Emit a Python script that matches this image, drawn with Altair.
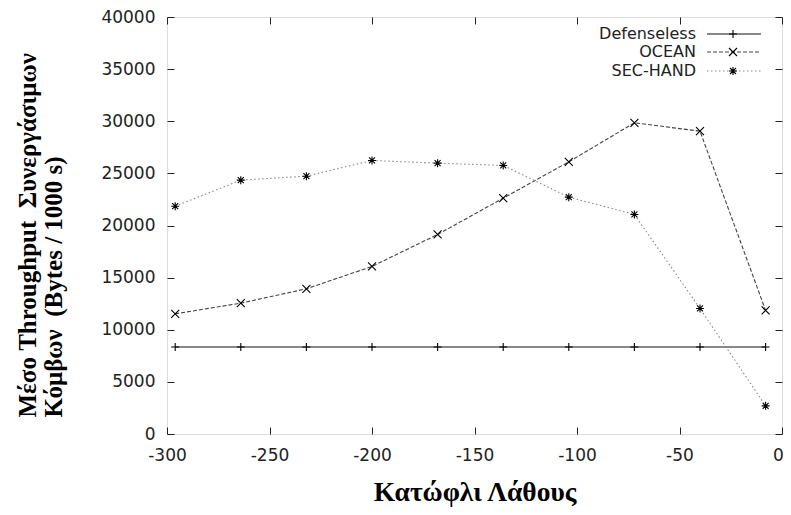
import altair as alt
import pandas as pd

# ---- data ----
x_vals = [-296, -264, -232, -200, -168, -136, -104, -72, -40, -8]
defenseless = [8350, 8350, 8350, 8350, 8350, 8350, 8350, 8350, 8350, 8350]
ocean = [11530, 12550, 13930, 16070, 19140, 22620, 26110, 29850, 29050, 11850]
sec_hand = [21850, 24350, 24730, 26240, 25980, 25760, 22720, 21060, 12040, 2700]

series = ["Defenseless", "OCEAN", "SEC-HAND"]
x_ticks = [-300, -250, -200, -150, -100, -50, 0]
y_ticks = [0, 5000, 10000, 15000, 20000, 25000, 30000, 35000, 40000]

# ---- styles ----
plus = "M-1,0L1,0M0,-1L0,1"
cross = "M-1,-1L1,1M-1,1L1,-1"
star = "M-1,0L1,0M0,-1L0,1M-0.75,-0.75L0.75,0.75M-0.75,0.75L0.75,-0.75"
shapes = [plus, cross, star]
line_colors = ["#111111", "#444444", "#888888"]
dashes = [[1, 0], [4, 2], [1.5, 2.5]]

rows = []
for name, vals in zip(series, [defenseless, ocean, sec_hand]):
    for xv, yv in zip(x_vals, vals):
        rows.append({"x": xv, "y": yv, "series": name})
df = pd.DataFrame(rows)

xs = alt.Scale(domain=[-300, 0], nice=False, zero=False)
ys = alt.Scale(domain=[0, 40000], nice=False)

tick_font = "DejaVu Sans"
axis_common = dict(
    domain=False, grid=False, tickSize=7, tickColor="#222", tickWidth=1,
    labelFont=tick_font, labelFontSize=17, labelColor="#222",
    labelFlush=False, labelOverlap=False, labelExpr="'' + datum.value",
)

x_axis = alt.Axis(
    values=x_ticks, offset=-7, labelPadding=13,
    labelOffset={"condition": {"test": "datum.value == 0", "value": -4}, "value": 0},
    title="Κατώφλι Λάθους", titleFont="Liberation Serif", titleFontWeight="bold",
    titleFontSize=27.5, titleColor="#000", titlePadding=15, **axis_common,
)
y_axis = alt.Axis(
    values=y_ticks, offset=-7, labelPadding=12,
    title=["Μέσο Throughput\u00a0\u00a0Συνεργάσιμων", "Κόμβων\u00a0\u00a0(Bytes / 1000 s)"],
    titleFont="Liberation Serif", titleFontWeight="bold", titleFontSize=25,
    titleColor="#000", titleAngle=270, titleAlign="left", titleBaseline="middle",
    titleLineHeight=26, titleX=-147, titleY=400, **axis_common,
)
x_top = alt.Axis(values=x_ticks, orient="top", offset=-7, labels=False, title=None,
                 domain=False, grid=False, tickSize=7, tickColor="#222")
y_right = alt.Axis(values=y_ticks, orient="right", offset=-7, labels=False, title=None,
                   domain=False, grid=False, tickSize=7, tickColor="#222")

base = alt.Chart(df)

lines = base.mark_line(strokeWidth=1.1).encode(
    x=alt.X("x:Q", scale=xs, axis=x_axis),
    y=alt.Y("y:Q", scale=ys, axis=y_axis),
    color=alt.Color("series:N", scale=alt.Scale(domain=series, range=line_colors), legend=None),
    strokeDash=alt.StrokeDash("series:N", scale=alt.Scale(domain=series, range=dashes), legend=None),
    detail="series:N",
)

points = base.mark_point(filled=False, strokeWidth=1.1, size=64, opacity=1).encode(
    x=alt.X("x:Q", scale=xs, axis=None),
    y=alt.Y("y:Q", scale=ys, axis=None),
    shape=alt.Shape("series:N", scale=alt.Scale(domain=series, range=shapes), legend=None),
    color=alt.value("#000"),
)

mirror = base.mark_point(opacity=0).encode(
    x=alt.X("x:Q", scale=xs, axis=x_top),
    y=alt.Y("y:Q", scale=ys, axis=y_right),
)

# ---- legend (inside, top-right, label left of sample) ----
legend_layers = []
row_y = [17, 35, 54]
for name, sh, col, dsh, ry in zip(series, shapes, line_colors, dashes, row_y):
    ldf = pd.DataFrame({"series": [name]})
    lb = alt.Chart(ldf)
    legend_layers.append(
        lb.mark_text(align="right", baseline="middle", font=tick_font, fontSize=16, color="#222")
        .encode(x=alt.value(529), y=alt.value(ry), text="series:N")
    )
    legend_layers.append(
        lb.mark_rule(strokeWidth=1.1, strokeDash=dsh, color=col)
        .encode(x=alt.value(540), x2=alt.value(594), y=alt.value(ry))
    )
    legend_layers.append(
        lb.mark_point(shape=sh, filled=False, strokeWidth=1.1, size=64, color="#000", opacity=1)
        .encode(x=alt.value(566), y=alt.value(ry))
    )

chart = alt.layer(lines, points, mirror, *legend_layers).resolve_axis(
    x="independent", y="independent"
).properties(
    width=615, height=417,
    autosize=alt.AutoSizeParams(type="none"),
    padding={"left": 159, "top": 9, "right": 1, "bottom": 73},
).configure_view(stroke="#333", strokeWidth=1.5).configure(background="white")

chart.save("out.html", embed_options={"renderer": "svg", "actions": False})
